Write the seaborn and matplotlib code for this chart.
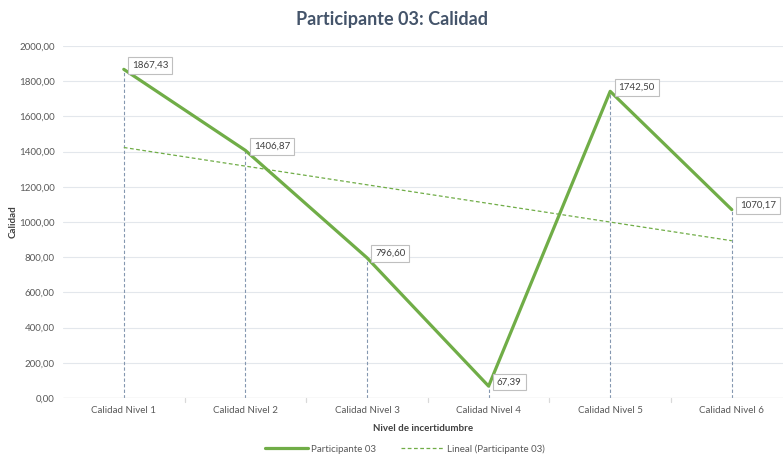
import numpy as np
import matplotlib
matplotlib.use("Agg")
import matplotlib.pyplot as plt
import seaborn as sns
import pandas as pd

niveles = ["Calidad Nivel 1", "Calidad Nivel 2", "Calidad Nivel 3",
           "Calidad Nivel 4", "Calidad Nivel 5", "Calidad Nivel 6"]
calidad = [1867.43, 1406.87, 796.60, 67.39, 1742.50, 1070.17]
y_ticks = [0, 200, 400, 600, 800, 1000, 1200, 1400, 1600, 1800, 2000]

sns.set_theme(style="white")
plt.rcParams['font.family'] = ['Lato', 'DejaVu Sans']

df = pd.DataFrame({"nivel": niveles, "calidad": calidad, "pos": range(len(niveles))})

# linear trend like Excel's "Lineal" trendline
slope, intercept = np.polyfit(df["pos"], df["calidad"], 1)
df["trend"] = slope * df["pos"] + intercept

fig = plt.figure(figsize=(7.83, 4.57), dpi=100)
ax = fig.add_axes([63 / 783, 59 / 457, 720 / 783, 352 / 457])

green = "#70AD47"
text_col = "#595959"

for y in y_ticks:
    ax.axhline(y, color="#E3E7EC", lw=0.8, zorder=0)

ax.vlines(df["pos"], 0, df["calidad"], colors="#8497B0", linestyles=(0, (3, 2)), lw=0.8, zorder=1)

sns.lineplot(data=df, x="pos", y="calidad", color=green, lw=2.3, ax=ax,
             label="Participante 03", zorder=3)
sns.lineplot(data=df, x="pos", y="trend", color=green, lw=0.9, ax=ax,
             linestyle=(0, (3, 2)), label="Lineal (Participante 03)", zorder=2)

for p, v in zip(df["pos"], df["calidad"]):
    ax.annotate(f"{v:.2f}".replace(".", ","), (p, v), xytext=(6, 3), textcoords="offset points",
                fontsize=7, color="#404040", va="center", ha="left",
                bbox=dict(boxstyle="square,pad=0.4", fc="white", ec="#BFBFBF", lw=0.8), zorder=5)

ax.set_xlim(-0.5, -0.5 + 720 / 121.6)
ax.set_ylim(0, 2000)
ax.set_xticks(df["pos"])
ax.set_xticklabels(niveles, fontsize=7, color=text_col)
ax.set_yticks(y_ticks)
ax.set_yticklabels([f"{t:.2f}".replace(".", ",") for t in y_ticks], fontsize=7, color=text_col)
ax.tick_params(axis="both", length=0, pad=6)
for s in ax.spines.values():
    s.set_visible(False)
ax.axhline(0, color="#D9D9D9", lw=0.9, zorder=1)
for b in np.arange(0.5, 5.5, 1):
    ax.plot([b, b], [0, -25], color="#D9D9D9", lw=0.9, clip_on=False)

ax.set_xlabel("Nivel de incertidumbre", fontsize=7, fontweight="bold", color="#404040", labelpad=6)
ax.set_ylabel("Calidad", fontsize=7, fontweight="bold", color="#404040")
ax.yaxis.set_label_coords(-45 / 720, 0.5)
fig.suptitle("Participante 03: Calidad", fontsize=13, fontweight="bold", color="#44546A", y=0.975)

ax.legend(loc="center", bbox_to_anchor=(0.475, -0.145), ncol=2, frameon=False,
          fontsize=7, labelcolor=text_col, handlelength=4.5, columnspacing=2.5, handletextpad=0.3)

fig.savefig("out.png", dpi=100)
